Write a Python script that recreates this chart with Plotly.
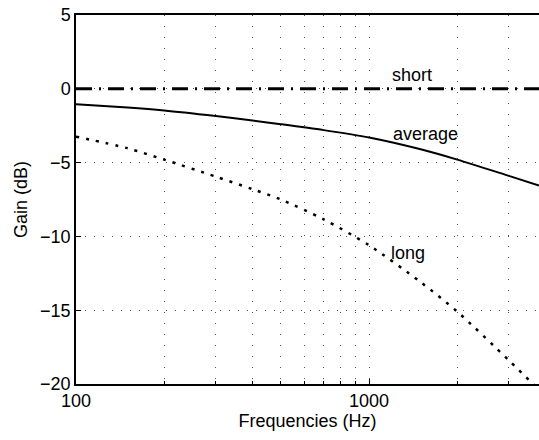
import math
import plotly.graph_objects as go

freqs = [100, 150, 200, 300, 400, 500, 700, 1000, 1500, 2000, 3000, 3800]
gain_short = [0, 0, 0, 0, 0, 0, 0, 0, 0, 0, 0, 0]
gain_average = [-1.05, -1.27, -1.47, -1.85, -2.15, -2.4, -2.8, -3.3, -4.1, -4.8, -5.9, -6.55]
gain_long = [-3.24, -4.03, -4.8, -5.95, -6.8, -7.5, -8.85, -10.6, -13.1, -15.1, -18.4, -20.4]

minor_freqs = [200, 300, 400, 500, 600, 700, 800, 900, 2000, 3000, 4000]

FONT = "Liberation Sans, Arial, sans-serif"

fig = go.Figure()
fig.add_trace(go.Scatter(x=freqs, y=gain_short, mode="lines",
                         line=dict(color="black", width=3, dash="16px,7px,2px,7px")))
fig.add_trace(go.Scatter(x=freqs, y=gain_average, mode="lines", line_shape="spline",
                         line=dict(color="black", width=2, smoothing=0.8)))
fig.add_trace(go.Scatter(x=freqs, y=gain_long, mode="lines", line_shape="spline",
                         line=dict(color="black", width=2.5, dash="3px,7px", smoothing=0.8)))

# curve labels
labels = [("short", 1403, 0.93), ("average", 1553, -3.06), ("long", 1358, -11.1)]
for txt, fx, gy in labels:
    fig.add_annotation(x=math.log10(fx), y=gy, text=txt, showarrow=False,
                       font=dict(size=18, color="black", family=FONT))

fig.update_layout(
    width=539, height=440,
    margin=dict(l=76, r=0, t=15, b=56),
    plot_bgcolor="white", paper_bgcolor="white",
    showlegend=False,
    font=dict(family=FONT, size=18, color="black"),
)
fig.update_xaxes(
    type="log", range=[2, math.log10(3800)], automargin=False,
    tickvals=[100, 1000], ticktext=["100", "1000"],
    ticks="inside", ticklen=5, tickcolor="black",
    showline=True, linecolor="black", linewidth=1.5, mirror=True,
    showgrid=True, gridcolor="#555", griddash="1px,10px", gridwidth=1,
    minor=dict(tickvals=minor_freqs, ticks="inside", ticklen=3, tickcolor="black",
               showgrid=True, gridcolor="#555", griddash="1px,10px", gridwidth=1),
    zeroline=False,
    title=dict(text="Frequencies (Hz)", standoff=0, font=dict(size=18, family=FONT)),
)
fig.update_yaxes(
    range=[-20, 5], tickvals=[5, 0, -5, -10, -15, -20], automargin=False,
    ticks="inside", ticklen=5, tickcolor="black",
    showline=True, linecolor="black", linewidth=1.5, mirror=False,
    showgrid=True, gridcolor="#555", griddash="1px,8px", gridwidth=1,
    zeroline=False,
    title=dict(text="Gain (dB)", standoff=8, font=dict(size=18, family=FONT)),
)

# page has a default 8px body margin, drop it so the figure sits at 0,0
fig.write_html("out.html", config={"displayModeBar": False},
               post_script="document.body.style.margin='0';")
